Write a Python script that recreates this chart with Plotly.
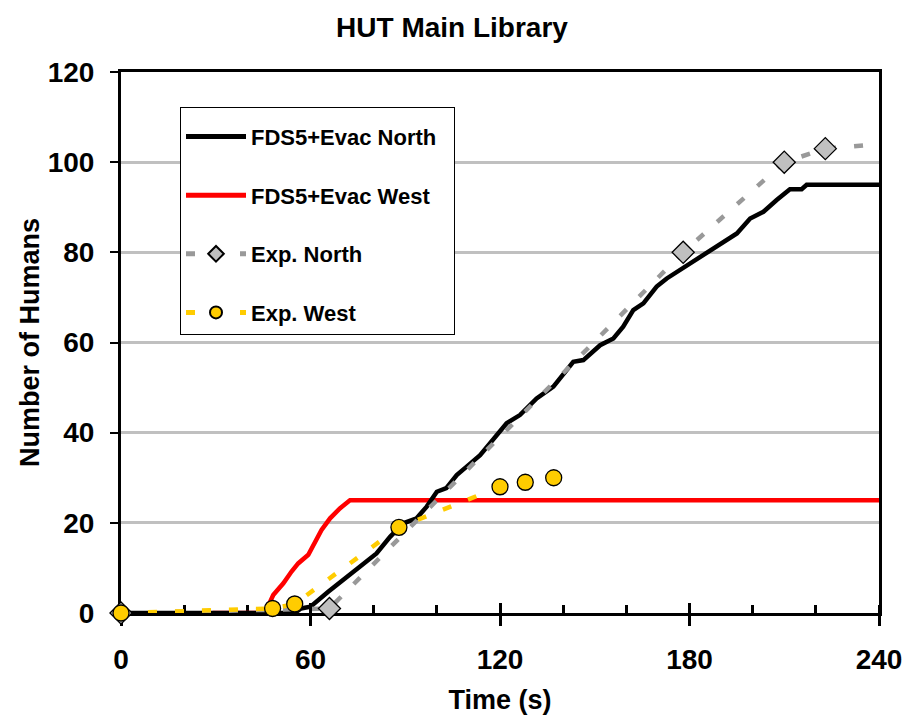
import plotly.graph_objects as go

# ---------------- data ----------------
fds_north_t = [0, 55, 57, 60, 65.6, 71.4, 75.7, 80.9, 85.2, 89.4, 93.6, 96.8, 100, 103,
               106.3, 110, 113.7, 122.1, 126.3, 131.6, 136.9, 143.2, 146.4, 151.7, 155.9,
               159, 162.2, 165.4, 169.6, 172.8, 183.4, 189.7, 195, 199.2, 203.4, 207.6,
               211.8, 215.5, 217.1, 240]
fds_north_n = [0, 0, 1, 1.4, 4.7, 8.1, 10.3, 13.2, 16.9, 19.9, 21, 23.6, 26.9, 27.7,
               30.6, 32.8, 35, 42.1, 43.9, 47.6, 50.2, 55.7, 56.1, 59.4, 60.9,
               63.5, 67.2, 68.7, 72.4, 74.2, 79, 81.6, 84.2, 87.5, 89, 91.6,
               94, 94, 95, 95]

fds_west_t = [29, 45.6, 48.2, 51.4, 54, 56.1, 59.3, 61.4, 63.5, 66.2, 69.3, 72.5, 240]
fds_west_n = [0, 0, 4, 6.6, 9.2, 11, 12.9, 15.5, 18.4, 21, 23.2, 25, 25]

exp_north_t = [0, 66, 178, 210, 223, 240]
exp_north_n = [0, 1, 80, 100, 103, 104]
exp_north_marked = 5          # first N points carry a marker

exp_west_t = [0, 48, 55, 88, 120, 128, 137]
exp_west_n = [0, 1, 2, 19, 28, 29, 30]
exp_west_lined = 6            # dashed line runs through the first N points

x_ticks = [0, 60, 120, 180, 240]
y_ticks = [0, 20, 40, 60, 80, 100, 120]

# ---------------- styles ----------------
FONT = "Liberation Sans, Arial, sans-serif"
DASH = "9px,18px"
LW = 4.5
C_BLACK, C_RED, C_GRAY, C_YEL = "#000000", "#FF0000", "#999999", "#FFCC00"
C_DIAM = "#C0C0C0"
NB = "\u00a0"

W, H = 904, 722
PL, PR, PT, PB = 121, 879, 72, 613   # plot area in px

fig = go.Figure()

# lines
fig.add_trace(go.Scatter(x=fds_west_t, y=fds_west_n, mode="lines", name="<b>FDS5+Evac West</b>",
                         line=dict(color=C_RED, width=LW), legendrank=2))
fig.add_trace(go.Scatter(x=fds_north_t, y=fds_north_n, mode="lines",
                         name="<b>FDS5+Evac North</b>" + NB * 2,
                         line=dict(color=C_BLACK, width=LW), legendrank=1))
fig.add_trace(go.Scatter(x=exp_north_t, y=exp_north_n, mode="lines", showlegend=False,
                         line=dict(color=C_GRAY, width=LW, dash=DASH)))
fig.add_trace(go.Scatter(x=exp_west_t[:exp_west_lined], y=exp_west_n[:exp_west_lined],
                         mode="lines", showlegend=False,
                         line=dict(color=C_YEL, width=LW, dash=DASH)))
# markers (on overlay axis so they sit above everything)
fig.add_trace(go.Scatter(x=exp_north_t[:exp_north_marked], y=exp_north_n[:exp_north_marked],
                         mode="markers", showlegend=False, xaxis="x2", cliponaxis=False,
                         marker=dict(symbol="diamond", size=17, color=C_DIAM,
                                     line=dict(color="black", width=1.3))))
fig.add_trace(go.Scatter(x=exp_west_t, y=exp_west_n, mode="markers", showlegend=False,
                         xaxis="x2", cliponaxis=False,
                         marker=dict(symbol="circle", size=16, color=C_YEL,
                                     line=dict(color="black", width=1.3))))
# legend entries for experiments
fig.add_trace(go.Scatter(x=[None], y=[None], mode="lines+markers", name="<b>Exp. North</b>",
                         line=dict(color=C_GRAY, width=LW, dash=DASH), legendrank=3,
                         marker=dict(symbol="diamond", size=14, color=C_DIAM,
                                     line=dict(color="black", width=1.3))))
fig.add_trace(go.Scatter(x=[None], y=[None], mode="lines+markers", name="<b>Exp. West</b>",
                         line=dict(color=C_YEL, width=LW, dash=DASH), legendrank=4,
                         marker=dict(symbol="circle", size=13, color=C_YEL,
                                     line=dict(color="black", width=1.3))))

for i, tr in enumerate(fig.data):
    tr.legendgroup = f"g{i}"

pw, ph = PR - PL, PB - PT
fig.update_layout(
    width=W, height=H,
    margin=dict(l=PL, r=W - PR, t=PT, b=H - PB, autoexpand=False),
    paper_bgcolor="white", plot_bgcolor="white",
    font=dict(family=FONT, color="black"),
    title=dict(text="<b>HUT Main Library</b>", x=0.5, xanchor="center",
               y=1 - 27 / H, yanchor="middle", font=dict(size=28, family=FONT)),
    showlegend=True,
    legend=dict(x=(180 - PL) / pw, y=(PB - 107) / ph, xanchor="left", yanchor="top",
                bgcolor="white", bordercolor="black", borderwidth=1,
                font=dict(size=22, family=FONT), itemwidth=60,
                title=dict(text=" ", font=dict(size=6)),
                traceorder="grouped", tracegroupgap=27, itemsizing="constant"),
    xaxis=dict(range=[0, 240], tickvals=x_ticks, ticktext=[f"<b>{v}</b>" for v in x_ticks],
               ticks="outside", ticklen=10, tickwidth=3, tickcolor="black", automargin=False,
               minor=dict(dtick=20, ticks="inside", ticklen=8, tickwidth=3, tickcolor="black",
                          showgrid=False),
               showline=True, linewidth=3, linecolor="black", mirror=True,
               showgrid=False, zeroline=False, layer="below traces",
               tickfont=dict(size=28, family=FONT), ticklabelstandoff=9,
               title=dict(text="<b>Time (s)</b>", font=dict(size=27, family=FONT), standoff=17)),
    xaxis2=dict(range=[0, 240], matches="x", overlaying="x", anchor="y", side="bottom",
                tickvals=x_ticks, ticks="inside", ticklen=10, tickwidth=3, tickcolor="black",
                showticklabels=False, showgrid=False, zeroline=False, showline=False),
    yaxis=dict(range=[0, 120], tickvals=y_ticks, ticktext=[f"<b>{v}</b>" for v in y_ticks],
               ticks="outside", ticklen=8, tickwidth=2, tickcolor="black", automargin=False,
               showline=True, linewidth=3, linecolor="black", mirror=True,
               showgrid=True, gridcolor="#C0C0C0", gridwidth=3, zeroline=False,
               layer="below traces",
               tickfont=dict(size=28, family=FONT), ticklabelstandoff=10,
               title=dict(text="<b>Number of Humans</b>", font=dict(size=27, family=FONT),
                          standoff=1)),
)

fig.write_html("out.html",
               config={"displayModeBar": False},
               post_script="document.body.style.margin='0';"
                           "document.body.style.overflow='hidden';")
